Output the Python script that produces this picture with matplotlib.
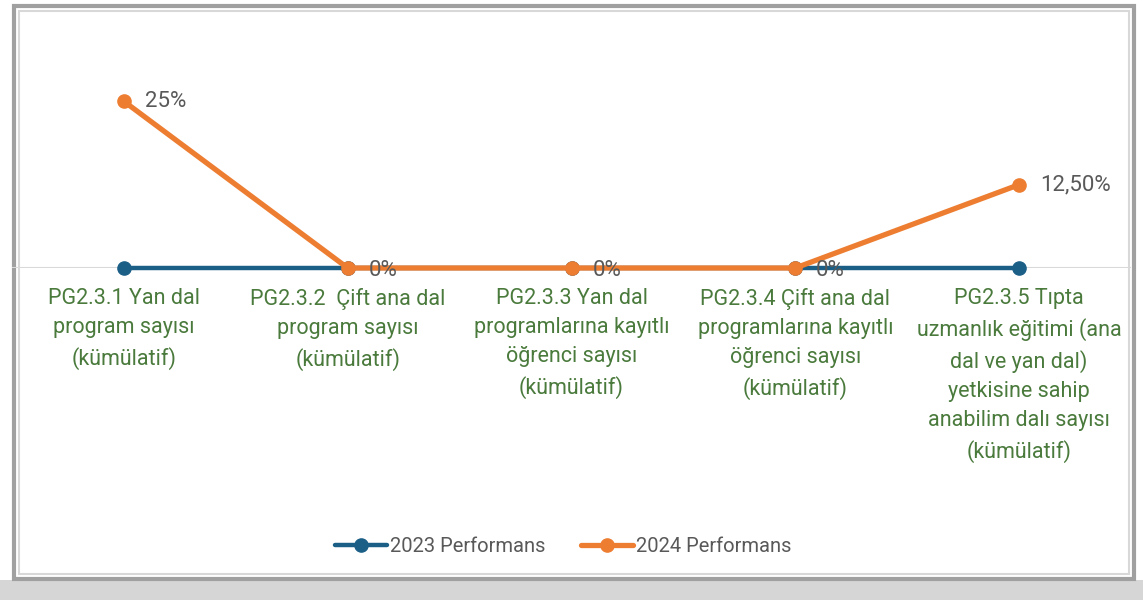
import matplotlib
matplotlib.use("Agg")
import matplotlib.pyplot as plt
from matplotlib.patches import Rectangle

# chart data
categories = [
    "PG2.3.1 Yan dal\nprogram sayısı\n(kümülatif)",
    "PG2.3.2  Çift ana dal\nprogram sayısı\n(kümülatif)",
    "PG2.3.3 Yan dal\nprogramlarına kayıtlı\nöğrenci sayısı\n(kümülatif)",
    "PG2.3.4 Çift ana dal\nprogramlarına kayıtlı\nöğrenci sayısı\n(kümülatif)",
    "PG2.3.5 Tıpta\nuzmanlık eğitimi (ana\ndal ve yan dal)\nyetkisine sahip\nanabilim dalı sayısı\n(kümülatif)",
]
perf_2023 = [0, 0, 0, 0, 0]
perf_2024 = [25, 0, 0, 0, 12.5]
labels_2024 = ["25%", "0%", "0%", "0%", "12,50%"]
series_names = ["2023 Performans", "2024 Performans"]

BLUE = "#1b5f87"
ORANGE = "#ed7d31"
GREEN = "#4a7a3c"
GRAY_TXT = "#595959"

plt.rcParams["font.family"] = ["Roboto", "DejaVu Sans"]

W, H = 1143, 600
fig = plt.figure(figsize=(W / 100, H / 100), dpi=100)

# frame with shadow
fig.patches.append(Rectangle((0, 0), 1, 20 / H, transform=fig.transFigure,
                             facecolor="#d6d6d6", edgecolor="none", zorder=0))
fig.patches.append(Rectangle((14 / W, 21 / H), 1120 / W, 573 / H, transform=fig.transFigure,
                             facecolor="white", edgecolor="#a0a0a0", linewidth=3, zorder=1))
fig.patches.append(Rectangle((19 / W, 26 / H), 1110 / W, 563 / H, transform=fig.transFigure,
                             facecolor="none", edgecolor="#d8d8d8", linewidth=1.5, zorder=1))

x0, x1 = 12, 1131
y_zero, y_top = 268, 68
ax = fig.add_axes([x0 / W, (H - y_zero) / H, (x1 - x0) / W, (y_zero - y_top) / H])
ax.set_facecolor("none")
ax.set_zorder(2)

xs = list(range(len(categories)))
ax.axhline(0, color="#d9d9d9", lw=1.5, zorder=1)
ax.plot(xs, perf_2023, color=BLUE, lw=3.2, marker="o", ms=9.5, label=series_names[0],
        solid_capstyle="round", zorder=3, clip_on=False)
ax.plot(xs, perf_2024, color=ORANGE, lw=3.8, marker="o", ms=9.5, label=series_names[1],
        solid_capstyle="round", zorder=4, clip_on=False)

for x, v, t in zip(xs, perf_2024, labels_2024):
    ax.annotate(t, (x, v), xytext=(15, -2 if v == 0 else 0), textcoords="offset points",
                ha="left", va="center", fontsize=16, color=GRAY_TXT, zorder=5)

ax.set_xlim(-0.5, len(categories) - 0.5)
ax.set_ylim(0, 30)
ax.set_xticks(xs)
ax.set_xticklabels(categories, fontsize=15.5, color=GREEN, linespacing=1.5)
ax.tick_params(axis="x", length=0, pad=14.5)
ax.set_yticks([])
for s in ax.spines.values():
    s.set_visible(False)

leg = fig.legend(loc="center", bbox_to_anchor=(563 / W, (H - 547) / H), ncol=2,
                 frameon=False, fontsize=14.5, handlelength=2.6, handletextpad=0.1,
                 columnspacing=1.8)
for t in leg.get_texts():
    t.set_color(GRAY_TXT)

fig.savefig("out.png", dpi=100)
